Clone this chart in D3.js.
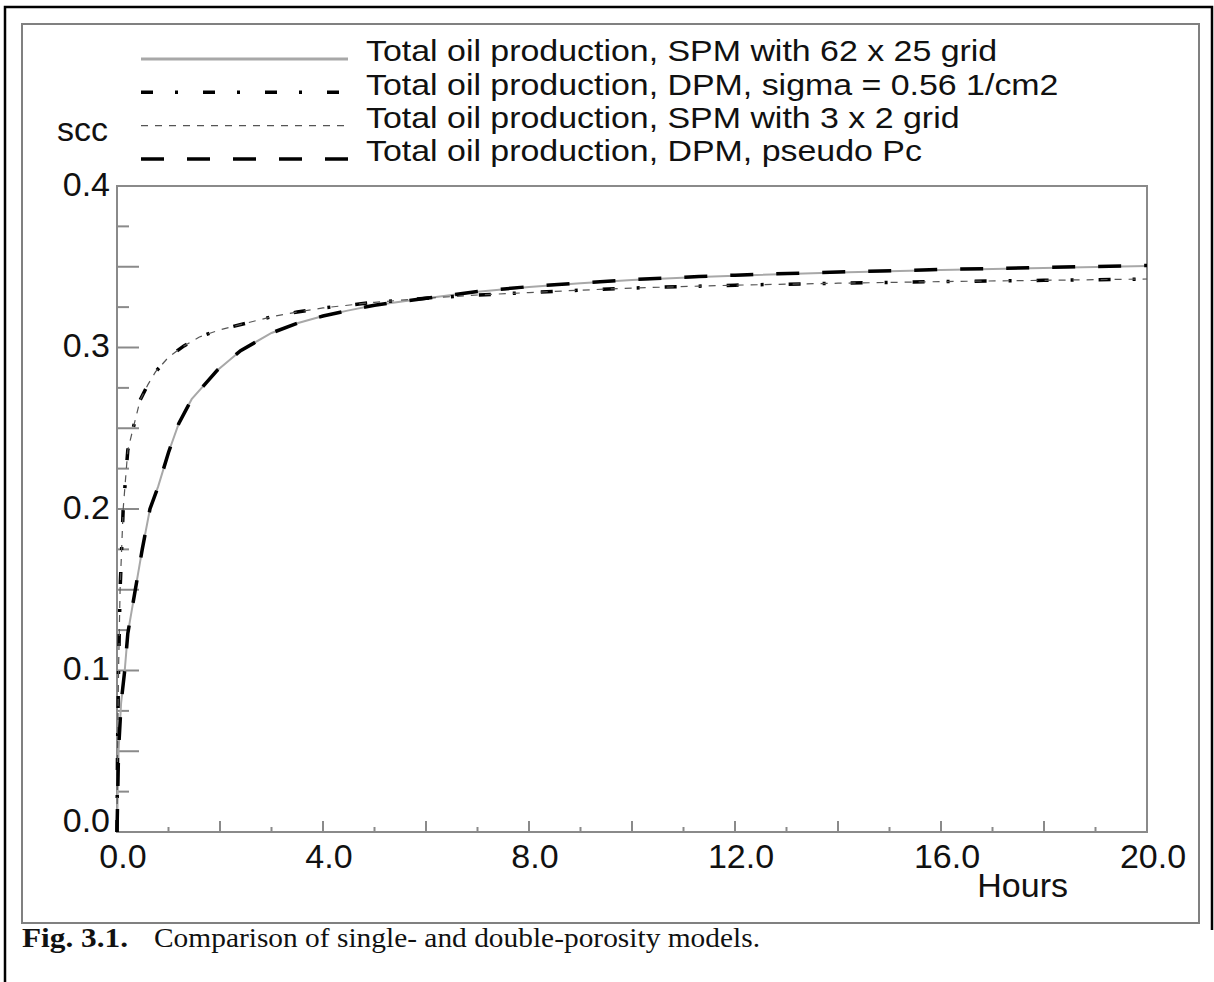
<!DOCTYPE html>
<html>
<head>
<meta charset="utf-8">
<script src="https://d3js.org/d3.v7.min.js"></script>
<style>
body { margin: 0; background: #fff; }
text { font-family: "Liberation Sans", Arial, Helvetica, sans-serif; fill: #111; }
</style>
</head>
<body>
<script>
// curve readings, hours vs scc
var timeSlow = [0, 0.03, 0.08, 0.15, 0.21, 0.35, 0.49, 0.64, 0.8, 1.0, 1.2, 1.45, 1.95, 2.4, 3.0, 3.5, 4.0, 4.5, 5.0, 6.0, 7.0, 8.0, 9.0, 10.0, 11.3, 12.0, 14.0, 16.0, 18.0, 20.0];
var spm62x25 = [0, 0.05, 0.08, 0.1, 0.123, 0.149, 0.175, 0.2, 0.214, 0.235, 0.253, 0.268, 0.286, 0.298, 0.309, 0.315, 0.3195, 0.323, 0.3262, 0.3305, 0.3345, 0.3375, 0.3398, 0.3418, 0.3437, 0.3445, 0.3465, 0.348, 0.3493, 0.3505];
var dpmPseudo = [0, 0.05, 0.08, 0.1, 0.123, 0.149, 0.175, 0.2, 0.214, 0.235, 0.253, 0.268, 0.286, 0.298, 0.309, 0.315, 0.3195, 0.323, 0.3262, 0.3305, 0.3347, 0.3377, 0.34, 0.342, 0.344, 0.3448, 0.3468, 0.3483, 0.3496, 0.3508];

var timeFast = [0, 0.01, 0.03, 0.06, 0.12, 0.21, 0.31, 0.45, 0.6, 0.75, 1.0, 1.3, 1.6, 2.0, 2.5, 3.0, 3.5, 4.0, 5.0, 6.0, 7.0, 8.0, 9.0, 10.0, 11.3, 12.0, 14.0, 16.0, 18.0, 20.0];
var spm3x2 = [0, 0.05, 0.1, 0.15, 0.2, 0.2365, 0.2495, 0.2675, 0.277, 0.285, 0.294, 0.301, 0.3065, 0.311, 0.315, 0.319, 0.322, 0.3245, 0.328, 0.3305, 0.3325, 0.334, 0.3355, 0.3368, 0.338, 0.3386, 0.3398, 0.3408, 0.3416, 0.3424];
var dpmSigma = [0, 0.05, 0.1, 0.15, 0.2, 0.2365, 0.2495, 0.2675, 0.277, 0.285, 0.294, 0.301, 0.3065, 0.311, 0.315, 0.319, 0.322, 0.3245, 0.328, 0.3305, 0.3325, 0.334, 0.3355, 0.3368, 0.338, 0.3386, 0.3398, 0.3408, 0.3416, 0.3424];

var yLabels = ["0.0", "0.1", "0.2", "0.3", "0.4"];
var xLabels = ["0.0", "4.0", "8.0", "12.0", "16.0", "20.0"];
var legendNames = [
	"Total oil production, SPM with 62 x 25 grid",
	"Total oil production, DPM, sigma = 0.56 1/cm2",
	"Total oil production, SPM with 3 x 2 grid",
	"Total oil production, DPM, pseudo Pc"
];

var width = 1214, height = 982;
var svg = d3.select("body").append("svg")
	.attr("width", width)
	.attr("height", height);

// page frame
svg.append("path")
	.attr("d", "M5,982 V7 H1212 V930")
	.attr("fill", "none").attr("stroke", "#000").attr("stroke-width", 2.5);
svg.append("rect")
	.attr("x", 22).attr("y", 24).attr("width", 1177).attr("height", 899)
	.attr("fill", "none").attr("stroke", "#808080").attr("stroke-width", 2);

var x = d3.scaleLinear().domain([0, 20]).range([117, 1147]);
var y = d3.scaleLinear().domain([0, 0.4]).range([832, 186]);

var grey = "#8a8a8a";

// plot box
svg.append("rect")
	.attr("x", x(0)).attr("y", y(0.4))
	.attr("width", x(20) - x(0)).attr("height", y(0) - y(0.4))
	.attr("fill", "none").attr("stroke", grey).attr("stroke-width", 2);

// y ticks, every 0.025
var yTicks = d3.range(0, 17).map(function (i) { return i * 0.025; });
svg.selectAll(".ytick")
	.data(yTicks)
	.enter().append("line")
	.attr("class", "ytick")
	.attr("x1", x(0))
	.attr("x2", function (d, i) { return x(0) + (i % 2 == 0 ? 22 : 12); })
	.attr("y1", function (d) { return y(d); })
	.attr("y2", function (d) { return y(d); })
	.attr("stroke", grey).attr("stroke-width", 2);

// x ticks, every hour
var xTicks = d3.range(0, 21);
svg.selectAll(".xtick")
	.data(xTicks)
	.enter().append("line")
	.attr("class", "xtick")
	.attr("x1", function (d) { return x(d); })
	.attr("x2", function (d) { return x(d); })
	.attr("y1", y(0))
	.attr("y2", function (d) { return y(0) - (d % 2 == 0 ? 11 : 5); })
	.attr("stroke", grey).attr("stroke-width", 2);

svg.selectAll(".ylab")
	.data(yLabels)
	.enter().append("text")
	.attr("class", "ylab")
	.attr("x", 110)
	.attr("y", function (d) { return y(+d); })
	.attr("dy", function (d) { return +d == 0 ? "0em" : "0.28em"; })
	.attr("text-anchor", "end")
	.style("font-size", "34px")
	.text(function (d) { return d; });

svg.selectAll(".xlab")
	.data(xLabels)
	.enter().append("text")
	.attr("class", "xlab")
	.attr("x", function (d) { return x(+d) + 6; })
	.attr("y", 868)
	.attr("text-anchor", "middle")
	.style("font-size", "34px")
	.text(function (d) { return d; });

svg.append("text").attr("x", 1068).attr("y", 897)
	.attr("text-anchor", "end").style("font-size", "34px").text("Hours");
svg.append("text").attr("x", 57).attr("y", 141)
	.style("font-size", "34px").text("scc");

// series
var series = [
	{ t: timeSlow, v: spm62x25, color: "#a8a8a8", w: 2, lw: 3, dash: null },
	{ t: timeFast, v: dpmSigma, color: "#000", w: 3.5, lw: 3.5, dash: "12,22,3,25" },
	{ t: timeFast, v: spm3x2, color: "#555", w: 1.2, lw: 1.2, dash: "7,7" },
	{ t: timeSlow, v: dpmPseudo, color: "#000", w: 3.5, lw: 3.5, dash: "23,23" }
];

var line = d3.line()
	.x(function (d) { return x(d[0]); })
	.y(function (d) { return y(d[1]); });

series.forEach(function (s) {
	var pts = s.t.map(function (t, i) { return [t, s.v[i]]; });
	svg.append("path")
		.attr("d", line(pts))
		.attr("fill", "none")
		.attr("stroke", s.color)
		.attr("stroke-width", s.w)
		.attr("stroke-dasharray", s.dash);
});

// legend (text a bit smaller, stretched sideways so rows do not collide)
var stretch = 1.15;
var leg = svg.selectAll(".leg")
	.data(series)
	.enter().append("g")
	.attr("class", "leg")
	.attr("transform", function (d, i) { return "translate(0," + (59 + i * 33.3) + ")"; });

leg.append("line")
	.attr("x1", 141).attr("x2", 348)
	.attr("stroke", function (d) { return d.color; })
	.attr("stroke-width", function (d) { return d.lw; })
	.attr("stroke-dasharray", function (d) { return d.dash; });

leg.append("text")
	.attr("transform", "translate(366,0) scale(" + stretch + ",1)")
	.attr("dy", "0.08em")
	.style("font-size", "29.5px")
	.text(function (d, i) { return legendNames[i]; });

// caption
var cap = svg.append("text")
	.attr("x", 22).attr("y", 947)
	.style("font-family", "'Liberation Serif', 'Times New Roman', serif")
	.style("font-size", "28px");
cap.append("tspan").style("font-weight", "bold")
	.attr("textLength", 106).attr("lengthAdjust", "spacingAndGlyphs")
	.text("Fig. 3.1.");
cap.append("tspan").attr("x", 154)
	.attr("textLength", 606).attr("lengthAdjust", "spacingAndGlyphs")
	.text("Comparison of single- and double-porosity models.");
</script>
</body>
</html>
